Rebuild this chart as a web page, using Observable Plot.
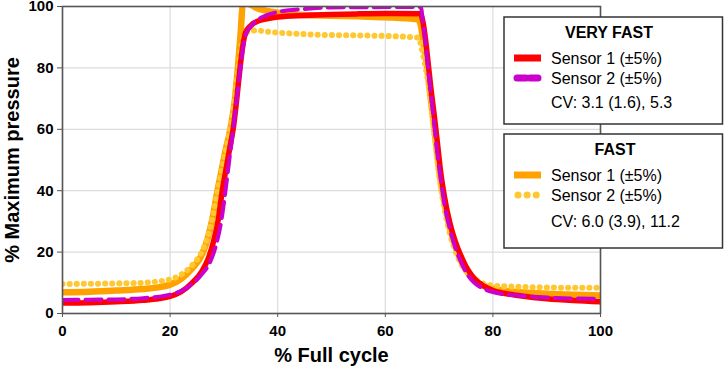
<!DOCTYPE html>
<html>
<head>
<meta charset="utf-8">
<script src="https://cdn.jsdelivr.net/npm/d3@7"></script>
<script src="https://cdn.jsdelivr.net/npm/@observablehq/plot@0.6"></script>
<style>
  body { margin: 0; background: #fff; font-family: Arial, "Liberation Sans", sans-serif; }
  #chart { position: relative; width: 724px; height: 368px; }
  #chart svg { position: absolute; left: 0; top: 0; }
</style>
</head>
<body>
<div id="chart"></div>
<script>
// Pressure traces over one cycle, [% full cycle, % maximum pressure]
const veryFastSensor1 = [[0,3.4],[5,3.5],[10,3.8],[15,4.3],[18,4.9],[20,5.6],[22,7],[24,9.8],[26,14],[27,17.5],[28,23],[29,31],[29.7,40],[30.5,48],[31,53],[31.8,61],[32.4,70],[33,80],[33.5,87],[34,91.3],[35,93.8],[36,95],[38,96],[40,96.6],[45,97.1],[50,97.4],[55,97.6],[60,97.7],[66.5,97.6],[67,95],[67.5,89],[68,81],[68.5,73],[69,66],[69.6,57],[70.3,46],[71,38],[72,29.5],[73,23.5],[74,19],[75,15.3],[76,12.6],[77,10.6],[78,9.3],[79,8.3],[80,7.5],[82,6.6],[85,5.8],[90,4.8],[95,4.2],[100,3.8]];
const veryFastSensor2 = [[0,4.4],[5,4.5],[10,4.6],[15,5],[18,5.5],[20,6.1],[22,7.3],[24,9.5],[26,13],[27.5,17],[28.5,22],[29.5,30],[30,36],[31,50],[32,64],[33,79],[33.5,86],[34,90.5],[35,93.5],[36,95.3],[38,97.2],[40,98.2],[45,99.2],[50,99.7],[60,99.8],[66.6,99.8],[67,95],[67.5,88],[68,79],[68.5,71],[69,63],[69.6,53],[70.3,44],[71,35.5],[72,27.5],[73,21.5],[74,17],[75,13.5],[76,11],[77,9.4],[78,8.3],[80,7],[82,6.3],[85,5.8],[90,5.2],[95,4.9],[100,4.8]];
const fastSensor1 = [[0,6.9],[5,7.1],[10,7.5],[15,8],[18,8.6],[20,9.4],[22,11.2],[24,14.5],[26,19.5],[27,24.5],[28,32],[28.7,39],[29.5,46],[30.3,53],[31.2,60],[32,69],[32.6,80],[33.1,91],[33.5,100.5],[34,101],[35,100.6],[36,99.6],[38,98.6],[40,98],[44,97.3],[50,97],[55,96.8],[60,96.5],[66,95.8],[66.6,94],[67,89],[67.5,84],[68,77],[69,62],[70,47],[71,36],[72,28],[73,22],[74,17.5],[75,14.2],[76,11.8],[77,10.2],[78,9.2],[80,8.1],[82,7.4],[85,6.9],[90,6.4],[95,6.1],[100,5.9]];
const fastSensor2 = [[0,9.6],[5,9.7],[10,9.8],[15,10],[18,10.5],[20,11.1],[22,12.6],[24,15.5],[26,20.5],[27,25],[28,32],[28.7,38.5],[29.5,45.5],[30.3,52.5],[31.2,60],[32,69],[32.6,78],[33.2,86.5],[33.8,90.5],[34.5,91.8],[36,92.2],[38,91.8],[40,91.5],[45,91],[50,90.7],[55,90.6],[60,90.4],[65,90],[66.2,89.8],[66.8,86],[67.5,80],[68,75],[69,60],[70,45],[71,34],[72,26],[73,20.5],[74,16.5],[75,13.8],[76,12],[77,10.8],[78,9.9],[80,9.1],[85,8.7],[90,8.5],[95,8.4],[100,8.4]];

const xTicks = [0, 20, 40, 60, 80, 100];
const yTicks = [0, 20, 40, 60, 80, 100];
const xTitle = "% Full cycle";
const yTitle = "% Maximum pressure";

const groupTitles = ["VERY FAST", "FAST"];
const entryLabels = ["Sensor 1 (±5%)", "Sensor 2 (±5%)"];
const cvLabels = ["CV: 3.1 (1.6), 5.3", "CV: 6.0 (3.9), 11.2"];

// line styles
const styles = {
  vf1: {stroke: "#ff0000", strokeWidth: 5.5},
  vf2: {stroke: "#cc00cc", strokeWidth: 4, strokeDasharray: "16,7"},
  f1:  {stroke: "#ffa200", strokeWidth: 6.5},
  f2:  {stroke: "#ffc833", strokeWidth: 6, strokeDasharray: "0.1,7", strokeLinecap: "round"}
};

const line = (data, st) => Plot.line(data, {x: d => d[0], y: d => d[1], curve: "monotone-x", clip: true, strokeLinejoin: "round", ...st});

const chart = Plot.plot({
  width: 724,
  height: 368,
  marginLeft: 62,
  marginRight: 124,
  marginTop: 6,
  marginBottom: 55,
  style: {fontFamily: "Arial, 'Liberation Sans', sans-serif", background: "transparent", color: "#000"},
  x: {domain: [0, 100]},
  y: {domain: [0, 100]},
  marks: [
    Plot.gridX(xTicks, {stroke: "#dcdcdc", strokeOpacity: 1, strokeWidth: 1.2}),
    Plot.gridY(yTicks, {stroke: "#dcdcdc", strokeOpacity: 1, strokeWidth: 1.2}),
    line(fastSensor1, styles.f1),
    line(fastSensor2, styles.f2),
    line(veryFastSensor1, styles.vf1),
    line(veryFastSensor2, styles.vf2),
    Plot.frame({stroke: "#555", strokeWidth: 1.6}),
    Plot.axisX(xTicks, {tickSize: 4, tickPadding: 8, fontSize: 15, fontWeight: "bold", label: null, stroke: "#555"}),
    Plot.axisY(yTicks, {tickSize: 5, tickPadding: 4, fontSize: 15, fontWeight: "bold", label: null, stroke: "#555"}),
    Plot.text([xTitle], {frameAnchor: "bottom", dy: 42, fontSize: 20, fontWeight: "bold", lineAnchor: "middle"}),
    Plot.text([yTitle], {frameAnchor: "left", dx: -50, rotate: -90, textAnchor: "middle", fontSize: 20, fontWeight: "bold", lineAnchor: "middle"})
  ]
});
document.getElementById("chart").appendChild(chart);

// Legend boxes drawn over the right side of the plot
const legend = d3.select("#chart").append("svg")
  .attr("width", 724).attr("height", 368)
  .style("font-family", "Arial, 'Liberation Sans', sans-serif");

const boxes = [
  {top: 17, height: 107, keys: ["vf1", "vf2"]},
  {top: 134, height: 114, keys: ["f1", "f2"]}
];
const boxLeft = 504, boxWidth = 218.5;

boxes.forEach((b, gi) => {
  const g = legend.append("g").attr("transform", `translate(${boxLeft},${b.top})`);
  g.append("rect").attr("width", boxWidth).attr("height", b.height)
    .attr("fill", "#fff").attr("stroke", "#333").attr("stroke-width", 1.5);
  g.append("text").attr("x", gi === 0 ? 105 : 111).attr("y", 21)
    .attr("text-anchor", "middle").attr("font-size", 16).attr("font-weight", "bold")
    .text(groupTitles[gi]);
  b.keys.forEach((k, i) => {
    const yy = 41 + i * 20;
    const st = styles[k];
    const sw = g.append("line").attr("x1", 10).attr("x2", 37).attr("y1", yy).attr("y2", yy)
      .attr("stroke", st.stroke).attr("stroke-width", 7);
    if (k === "vf2") sw.attr("stroke-dasharray", "9,4").attr("stroke-linecap", "round").attr("x1", 13).attr("x2", 34);
    if (k === "f2") sw.attr("stroke-dasharray", "0.1,9").attr("stroke-linecap", "round").attr("x1", 14).attr("x2", 33);
    g.append("text").attr("x", 47).attr("y", yy + 6).attr("font-size", 16).text(entryLabels[i]);
  });
  g.append("text").attr("x", 47).attr("y", gi === 0 ? 91 : 93).attr("font-size", 16).text(cvLabels[gi]);
});
</script>
</body>
</html>
